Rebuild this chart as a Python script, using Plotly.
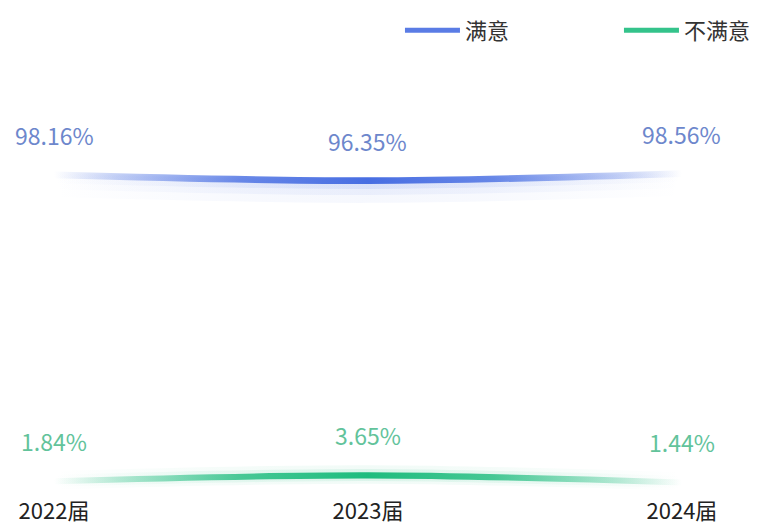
import plotly.graph_objects as go

categories = ["2022届", "2023届", "2024届"]
satisfied = [98.16, 96.35, 98.56]
unsatisfied = [1.84, 3.65, 1.44]
series_names = ["满意", "不满意"]

BLUE = (72, 110, 226)
GREEN = (30, 188, 126)
BLUE_TXT = "#6d87cc"
GREEN_TXT = "#62c39b"
FONT = "Noto Sans CJK SC"


def rgba(c, a):
    return f"rgba({c[0]},{c[1]},{c[2]},{a:.3f})"


def grad(c, a):
    return [
        [0.0, rgba(c, 0)],
        [0.1, rgba(c, 0.3 * a)],
        [0.3, rgba(c, 0.8 * a)],
        [0.5, rgba(c, a)],
        [0.7, rgba(c, 0.8 * a)],
        [0.9, rgba(c, 0.3 * a)],
        [1.0, rgba(c, 0)],
    ]


fig = go.Figure()


def band(vals, lo, hi, c, a):
    fig.add_trace(go.Scatter(
        x=categories, y=[v - lo for v in vals], mode="lines",
        line=dict(width=0, shape="spline", color=rgba(c, 0)),
        hoverinfo="skip", showlegend=False))
    fig.add_trace(go.Scatter(
        x=categories, y=[v + hi for v in vals], mode="lines",
        line=dict(width=0, shape="spline", color=rgba(c, 0)),
        fill="tonexty",
        fillgradient=dict(type="horizontal", colorscale=grad(c, a)),
        hoverinfo="skip", showlegend=False))


# blue line with glow below
for lo, hi, a in [(7.0, 0.2, 0.05), (4.5, 0.5, 0.07), (2.6, 0.8, 0.1)]:
    band(satisfied, lo, hi, BLUE, a)
band(satisfied, 1.05, 1.05, BLUE, 1.0)

# green line with glow
for lo, hi, a in [(2.6, 3.2, 0.06), (1.8, 2.0, 0.1)]:
    band(unsatisfied, lo, hi, GREEN, a)
band(unsatisfied, 0.95, 0.95, GREEN, 1.0)

# legend entries
for name, c in zip(series_names, [BLUE, GREEN]):
    fig.add_trace(go.Scatter(x=[None], y=[None], mode="lines", name=name,
                             line=dict(color=rgba(c, 0.9), width=5)))

annotations = []
for vals, col in [(satisfied, BLUE_TXT), (unsatisfied, GREEN_TXT)]:
    for cat, v in zip(categories, vals):
        annotations.append(dict(
            x=cat, y=v, text=f"{v:.2f}%", showarrow=False, yshift=40,
            font=dict(family=FONT, size=23, color=col)))

fig.update_layout(
    width=762, height=532,
    margin=dict(l=0, r=0, t=60, b=36, autoexpand=False),
    paper_bgcolor="white", plot_bgcolor="white",
    font=dict(family=FONT, size=22, color="#333333"),
    annotations=annotations,
    showlegend=True,
    legend=dict(orientation="h", x=1.0997, xanchor="right", y=1.068, yanchor="middle",
                itemwidth=55, entrywidth=149, entrywidthmode="pixels",
                traceorder="normal",
                font=dict(family=FONT, size=22, color="#333333"),
                bgcolor="rgba(0,0,0,0)"),
    xaxis=dict(type="category", range=[-0.172, 2.255], showgrid=False, zeroline=False,
               showline=False, ticks="", tickfont=dict(family=FONT, size=22, color="#222222")),
    yaxis=dict(visible=False, range=[-2.83, 134.28], showgrid=False, zeroline=False),
)

fig.write_html("out.html", config={"displayModeBar": False},
               post_script="document.body.style.margin='0';")
